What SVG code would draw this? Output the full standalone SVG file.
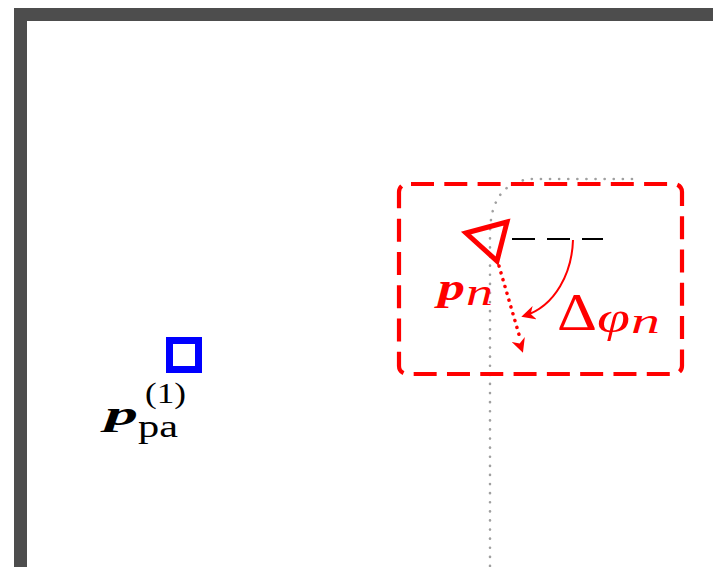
<svg xmlns="http://www.w3.org/2000/svg" width="713" height="567" viewBox="0 0 713 567">
<style>
.wall{fill:none;stroke:#4d4d4d;stroke-width:13}
.mathb{font-family:"Liberation Serif",serif;font-style:italic;font-weight:bold}
.math{font-family:"Liberation Serif",serif;font-style:italic}
.rm{font-family:"Liberation Serif",serif}
</style>
<defs>
<marker id="ah2" viewBox="0 0 10 10" refX="8" refY="5" markerWidth="14" markerHeight="14" orient="auto" markerUnits="userSpaceOnUse">
<path d="M0,0 L10,5 L0,10 L3,5 Z" fill="#ff0000"/>
</marker>
</defs>
<rect width="713" height="567" fill="#ffffff"/>
<g id="wall">
<path class="wall" d="M20.5,567 V14.5 H713"/>
</g>
<g id="trajectory">
<path d="M632,179 H532 Q490,182 490,235 V567" fill="none" stroke="#a0a0a0" stroke-width="2.6" stroke-dasharray="0.1 9" stroke-linecap="round"/>
</g>
<g id="region">
<rect x="399" y="184" width="283" height="190" rx="8" fill="none" stroke="#ff0000" stroke-width="4.2" stroke-dasharray="23 10.3" stroke-dashoffset="-4"/>
</g>
<g id="connectors">
<path d="M512,239 H603" stroke="#000000" stroke-width="2.2" stroke-dasharray="23 12" fill="none"/>
<path d="M499,266 L520,338" stroke="#ff0000" stroke-width="3.5" stroke-dasharray="0.1 7" stroke-linecap="round" fill="none"/>
<path d="M517,336 L522,350" stroke="none" fill="none" marker-end="url(#ah2)"/>
<path d="M573,240 C572,272 556,306 524,316" stroke="#ff0000" stroke-width="2" fill="none" marker-end="url(#ah2)"/>
</g>
<g id="robot">
<polygon points="466,233 507,222 497,261" fill="none" stroke="#ff0000" stroke-width="5" stroke-linejoin="miter"/>
<text class="mathb" x="438" y="300" font-size="38" fill="#ff0000" textLength="27" lengthAdjust="spacingAndGlyphs">p</text>
<text class="math" x="466" y="305" font-size="38" fill="#ff0000" textLength="27" lengthAdjust="spacingAndGlyphs">n</text>
<text class="rm" x="557" y="330" font-size="53" fill="#ff0000" textLength="40" lengthAdjust="spacingAndGlyphs">Δ</text>
<text class="math" x="597" y="332" font-size="44" fill="#ff0000" textLength="33" lengthAdjust="spacingAndGlyphs">φ</text>
<text class="math" x="631" y="333" font-size="36" fill="#ff0000" textLength="29" lengthAdjust="spacingAndGlyphs">n</text>
</g>
<g id="anchor">
<rect x="169.5" y="340.5" width="29" height="29" fill="none" stroke="#0000ff" stroke-width="7"/>
<text class="mathb" x="105" y="425" font-size="34" fill="#000000" textLength="33" lengthAdjust="spacingAndGlyphs">p</text>
<text class="rm" x="145" y="403" font-size="30" fill="#000000" textLength="41" lengthAdjust="spacingAndGlyphs">(1)</text>
<text class="rm" x="138" y="437" font-size="31" fill="#000000" textLength="40" lengthAdjust="spacingAndGlyphs">pa</text>
</g>
</svg>
